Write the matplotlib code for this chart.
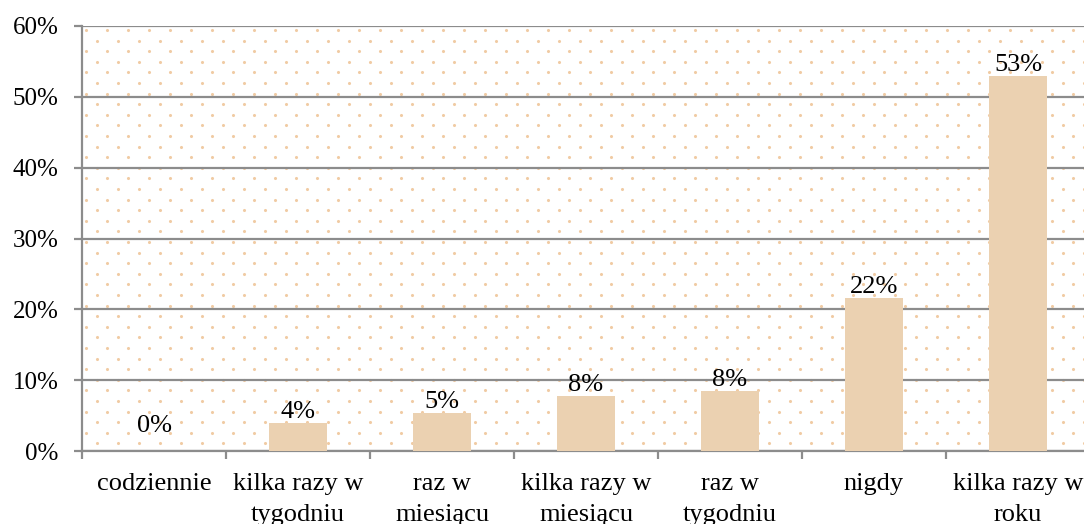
import matplotlib.pyplot as plt
import numpy as np

categories = ['codziennie', 'kilka razy w\ntygodniu', 'raz w\nmiesiącu',
              'kilka razy w\nmiesiącu', 'raz w\ntygodniu', 'nigdy',
              'kilka razy w\nroku']
values = [0.0, 3.9, 5.4, 7.7, 8.5, 21.6, 53.0]
labels = ['0%', '4%', '5%', '8%', '8%', '22%', '53%']
yticks = [0, 10, 20, 30, 40, 50, 60]

plt.rcParams['font.family'] = ['Liberation Serif', 'DejaVu Serif']

W, H = 1084, 524
fig = plt.figure(figsize=(W / 100, H / 100), dpi=100)
ax = fig.add_axes([82 / W, 1 - 451 / H, 1008 / W, 425 / H])

# dotted background pattern (staggered)
px_w, px_h = 1008, 425
dx, dy = 21.0, 10.6
pts = []
for j, yy in enumerate(np.arange(4, px_h, dy)):
    off = 0 if j % 2 == 0 else dx / 2
    for xx in np.arange(4 + off, px_w, dx):
        pts.append((xx / px_w, 1 - yy / px_h))
pts = np.array(pts)
ax.scatter(pts[:, 0], pts[:, 1], s=5, color='#EDBF8E', alpha=0.8,
           transform=ax.transAxes, zorder=0, linewidths=0)

x = np.arange(len(categories))
ax.bar(x, values, width=0.4, color='#EBD1B1', zorder=3)
for xi, v, lab in zip(x, values, labels):
    # a zero value gets its label lifted a bit, like in the original
    ax.text(xi, max(v, 2.0), lab, ha='center', va='bottom', fontsize=19, zorder=4)

ax.set_xlim(-0.5, len(categories) - 0.5)
ax.set_ylim(0, 60)
ax.set_yticks(yticks)
ax.set_yticklabels([f'{t}%' for t in yticks], fontsize=18)
ax.yaxis.grid(True, color='#8c8c8c', linewidth=1.6, zorder=1)
ax.set_axisbelow(True)

ax.set_xticks(np.arange(-0.5, len(categories), 1.0))
ax.set_xticklabels([])
ax.set_xticks(x, minor=True)
ax.set_xticklabels(categories, minor=True, fontsize=19, linespacing=1.5)
ax.tick_params(axis='x', which='minor', length=0, pad=16)
ax.tick_params(axis='x', which='major', length=6, color='#8c8c8c', width=1.6)
ax.tick_params(axis='y', length=6, color='#8c8c8c', width=1.6, pad=11)

for side in ['top', 'right']:
    ax.spines[side].set_visible(False)
for side in ['left', 'bottom']:
    ax.spines[side].set_color('#8c8c8c')
    ax.spines[side].set_linewidth(1.6)

fig.savefig('out.png', dpi=100)
